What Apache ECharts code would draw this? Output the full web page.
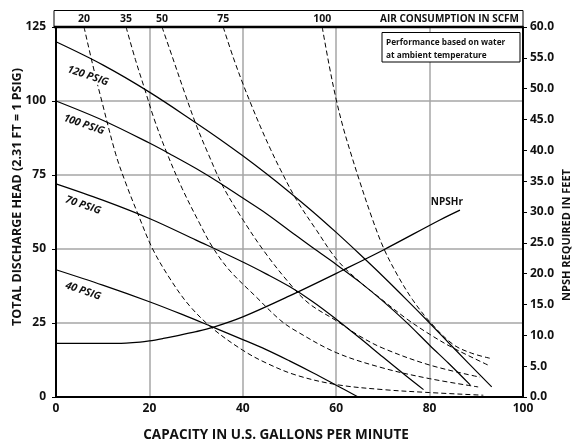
<!DOCTYPE html>
<html>
<head>
<meta charset="utf-8">
<script src="https://cdn.jsdelivr.net/npm/echarts@6/dist/echarts.min.js"></script>
<style>
html,body{margin:0;padding:0;background:#fff;}
#c{width:580px;height:443px;}
</style>
</head>
<body>
<div id="c"></div>
<script>
// ---- data ----
// discharge pressure curves: [capacity GPM, head PSIG]
const psig120 = [[0,120],[10,112.2],[20,103],[30,92.6],[35,87.2],[40,81.5],[45,75.5],[50,69.2],[55,62.6],[60,55.6],[65,48.3],[70,40.8],[75,33],[80,25],[85,16.8],[93.3,3.4]];
const psig100 = [[0,100],[10,93.5],[20,85.8],[25,81.6],[30,77.2],[35,72.4],[40,67.2],[45,62],[50,56.2],[55,50.4],[60,44.8],[65,38.9],[70,32.4],[75,25.3],[80,17.5],[84,11.5],[88.7,4.1]];
const psig70 = [[0,72],[10,66.5],[20,60.3],[30,53],[40,45.6],[45,41.6],[50,37.3],[55,32.2],[60,26.3],[65,20],[70,13.5],[75,7.1],[78.7,2.5]];
const psig40 = [[0,43],[10,37.8],[20,32.2],[27,27.9],[33.6,23.6],[40,19.4],[45,16],[50,12.2],[55,8.2],[60,4],[64.7,0]];
// air consumption curves (SCFM): [capacity GPM, head PSIG]
const scfm20 = [[6,125],[7.9,112],[9.8,100],[12.8,82],[15,72],[17.5,62],[20.7,50],[24.6,39.5],[28.5,31],[33.5,23.2],[40,15.8],[45,11.5],[51.4,7.4],[60,4.2],[70,2.5],[80,1.5],[91.5,0.6]];
const scfm35 = [[15,125],[17,114],[19,104],[21,94],[23.6,83],[27,70.5],[30.8,58.5],[33.5,50.7],[37.1,42.9],[42.8,33.9],[48,26],[51.4,22.3],[60,15],[70,9.8],[80,6.2],[90.4,3.4]];
const scfm50 = [[22.7,125],[25,114.5],[27.5,103],[30,92],[32.5,82.5],[35.8,71],[40.1,59.7],[44.4,49.6],[49.4,39.5],[54,31.8],[60,25.8],[65,20.6],[70,16.5],[80,10.8],[90.8,6.7]];
const scfm75 = [[35.8,125],[38,114.5],[40.1,105.5],[42,98],[44,90.5],[46,83.5],[48,77],[51.5,66.6],[55.8,56.3],[60.1,46.5],[64.4,39.8],[69.4,33.4],[75,26.5],[80,21.2],[85,16.6],[92.9,10.5]];
const scfm100 = [[57,125],[58.5,112],[60,100.5],[61.5,91],[63,83],[65,73],[67.6,60.8],[70.1,50.5],[73,41.5],[76.3,33],[80,25.5],[85,17.8],[89,14.8],[92.9,13.1]];
// NPSH required: [capacity GPM, feet]
const npshr = [[0,8.7],[10,8.7],[15,8.75],[18,8.9],[20,9.1],[23,9.5],[25,9.8],[30,10.6],[33.6,11.3],[40,13.0],[50,16.4],[61.5,20.6],[70,23.8],[82.2,28.7],[86.5,30.3]];

const psigNames = ['120 PSIG','100 PSIG','70 PSIG','40 PSIG'];
const scfmNames = ['20','35','50','75','100'];
const psigSets = [psig120, psig100, psig70, psig40];
const scfmSets = [scfm20, scfm35, scfm50, scfm75, scfm100];

// label anchors (data coords)
const psigLabelAt = [[6.85,108.5],[6.0,92],[5.8,64.8],[5.8,35.8]];
const npshLabelAt = [83.7,65.8];

const FONT = 'Open Sans';
const chart = echarts.init(document.getElementById('c'), null, {renderer:'canvas'});

const series = [];
psigSets.forEach((d,i)=>{
  series.push({type:'line', name:psigNames[i], data:d, xAxisIndex:0, yAxisIndex:0,
    showSymbol:false, smooth:0.35, silent:true,
    lineStyle:{color:'#000', width:1.2}, z:3});
});
scfmSets.forEach((d,i)=>{
  series.push({type:'line', name:scfmNames[i]+' SCFM', data:d, xAxisIndex:0, yAxisIndex:0,
    showSymbol:false, smooth:0.35, silent:true,
    lineStyle:{color:'#000', width:1, type:[5,3]}, z:2});
});
series.push({type:'line', name:'NPSHr', data:npshr, xAxisIndex:0, yAxisIndex:1,
  showSymbol:false, smooth:0.35, silent:true,
  lineStyle:{color:'#000', width:1.3}, z:3});

const axisLabelStyle = {color:'#111', fontFamily:FONT, fontWeight:'bold', fontSize:12};

chart.setOption({
  animation:false,
  backgroundColor:'#fff',
  grid:{left:56, right:57, top:27, bottom:46, containLabel:false},
  xAxis:{type:'value', min:0, max:100, interval:20,
    axisLine:{show:true, lineStyle:{color:'#000', width:2}},
    axisTick:{show:false},
    axisLabel:Object.assign({margin:6}, axisLabelStyle),
    splitLine:{show:true, lineStyle:{color:'#a6a6a6', width:1.5}}},
  yAxis:[
    {type:'value', min:0, max:125, interval:25, position:'left',
      axisLine:{show:true, lineStyle:{color:'#000', width:2}},
      axisTick:{show:true, length:4, lineStyle:{color:'#000', width:1}},
      axisLabel:Object.assign({margin:10}, axisLabelStyle),
      splitLine:{show:true, lineStyle:{color:'#a6a6a6', width:1.5}}},
    {type:'value', min:0, max:60, interval:5, position:'right',
      axisLine:{show:true, lineStyle:{color:'#000', width:2}},
      axisTick:{show:true, length:4, lineStyle:{color:'#000', width:1}},
      axisLabel:Object.assign({margin:7, formatter:v=>v.toFixed(1)}, axisLabelStyle),
      splitLine:{show:false}}
  ],
  series:series
});

function px(pt, yi){ return chart.convertToPixel({xAxisIndex:0, yAxisIndex:yi||0}, pt); }

const gLeft = px([0,0])[0], gRight = px([100,0])[0], gTop = px([0,125])[1];
const graphics = [];
// axis names
graphics.push({type:'text', x:276, y:435, z:12,
  style:{text:'CAPACITY IN U.S. GALLONS PER MINUTE', fill:'#111', font:'bold 13.5px "'+FONT+'"', align:'center', verticalAlign:'middle'}});
graphics.push({type:'text', x:17, y:197, rotation:Math.PI/2, z:12,
  style:{text:'TOTAL DISCHARGE HEAD (2.31 FT = 1 PSIG)', fill:'#111', font:'bold 12.5px "'+FONT+'"', align:'center', verticalAlign:'middle'}});
graphics.push({type:'text', x:567, y:235, rotation:Math.PI/2, z:12,
  style:{text:'NPSH REQUIRED IN FEET', fill:'#111', font:'bold 11px "'+FONT+'"', align:'center', verticalAlign:'middle'}});
// air consumption band
graphics.push({type:'rect', shape:{x:gLeft-2, y:10.5, width:gRight-gLeft+2, height:gTop-10.5},
  style:{fill:'#fff', stroke:'#000', lineWidth:1}, z:10});
graphics.push({type:'line', shape:{x1:gLeft-2, y1:gTop, x2:gRight, y2:gTop},
  style:{stroke:'#000', lineWidth:2.5}, z:11});
scfmSets.forEach((d,i)=>{
  const p = px(d[0]);
  graphics.push({type:'text', x:p[0], y:(10.5+gTop)/2+0.5, z:12,
    style:{text:scfmNames[i], fill:'#111', font:'bold 10.5px "'+FONT+'"', align:'center', verticalAlign:'middle'}});
});
graphics.push({type:'text', x:gRight-4, y:(10.5+gTop)/2+0.5, z:12, scaleX:0.95,
  style:{text:'AIR CONSUMPTION IN SCFM', fill:'#111', font:'bold 10.5px "'+FONT+'"', align:'right', verticalAlign:'middle'}});
// note box
graphics.push({type:'rect', shape:{x:382, y:32.5, width:138, height:29.5},
  style:{fill:'#fff', stroke:'#000', lineWidth:1}, z:10});
graphics.push({type:'text', x:386, y:42, scaleX:0.87, z:12,
  style:{text:'Performance based on water', fill:'#111', font:'bold 9.5px "'+FONT+'"', align:'left', verticalAlign:'middle'}});
graphics.push({type:'text', x:386, y:55, scaleX:0.87, z:12,
  style:{text:'at ambient temperature', fill:'#111', font:'bold 9.5px "'+FONT+'"', align:'left', verticalAlign:'middle'}});
// PSIG labels
psigNames.forEach((n,i)=>{
  const p = px(psigLabelAt[i]);
  graphics.push({type:'text', x:p[0], y:p[1], rotation:-0.33, z:12,
    style:{text:n, fill:'#111', font:'italic bold 10.5px "'+FONT+'"', align:'center', verticalAlign:'middle',
      backgroundColor:'#fff', padding:[0,1]}});
});
const np = px(npshLabelAt);
graphics.push({type:'text', x:np[0], y:np[1], z:12,
  style:{text:'NPSHr', fill:'#111', font:'bold 10px "'+FONT+'"', align:'center', verticalAlign:'middle'}});

chart.setOption({graphic:graphics});
</script>
</body>
</html>
